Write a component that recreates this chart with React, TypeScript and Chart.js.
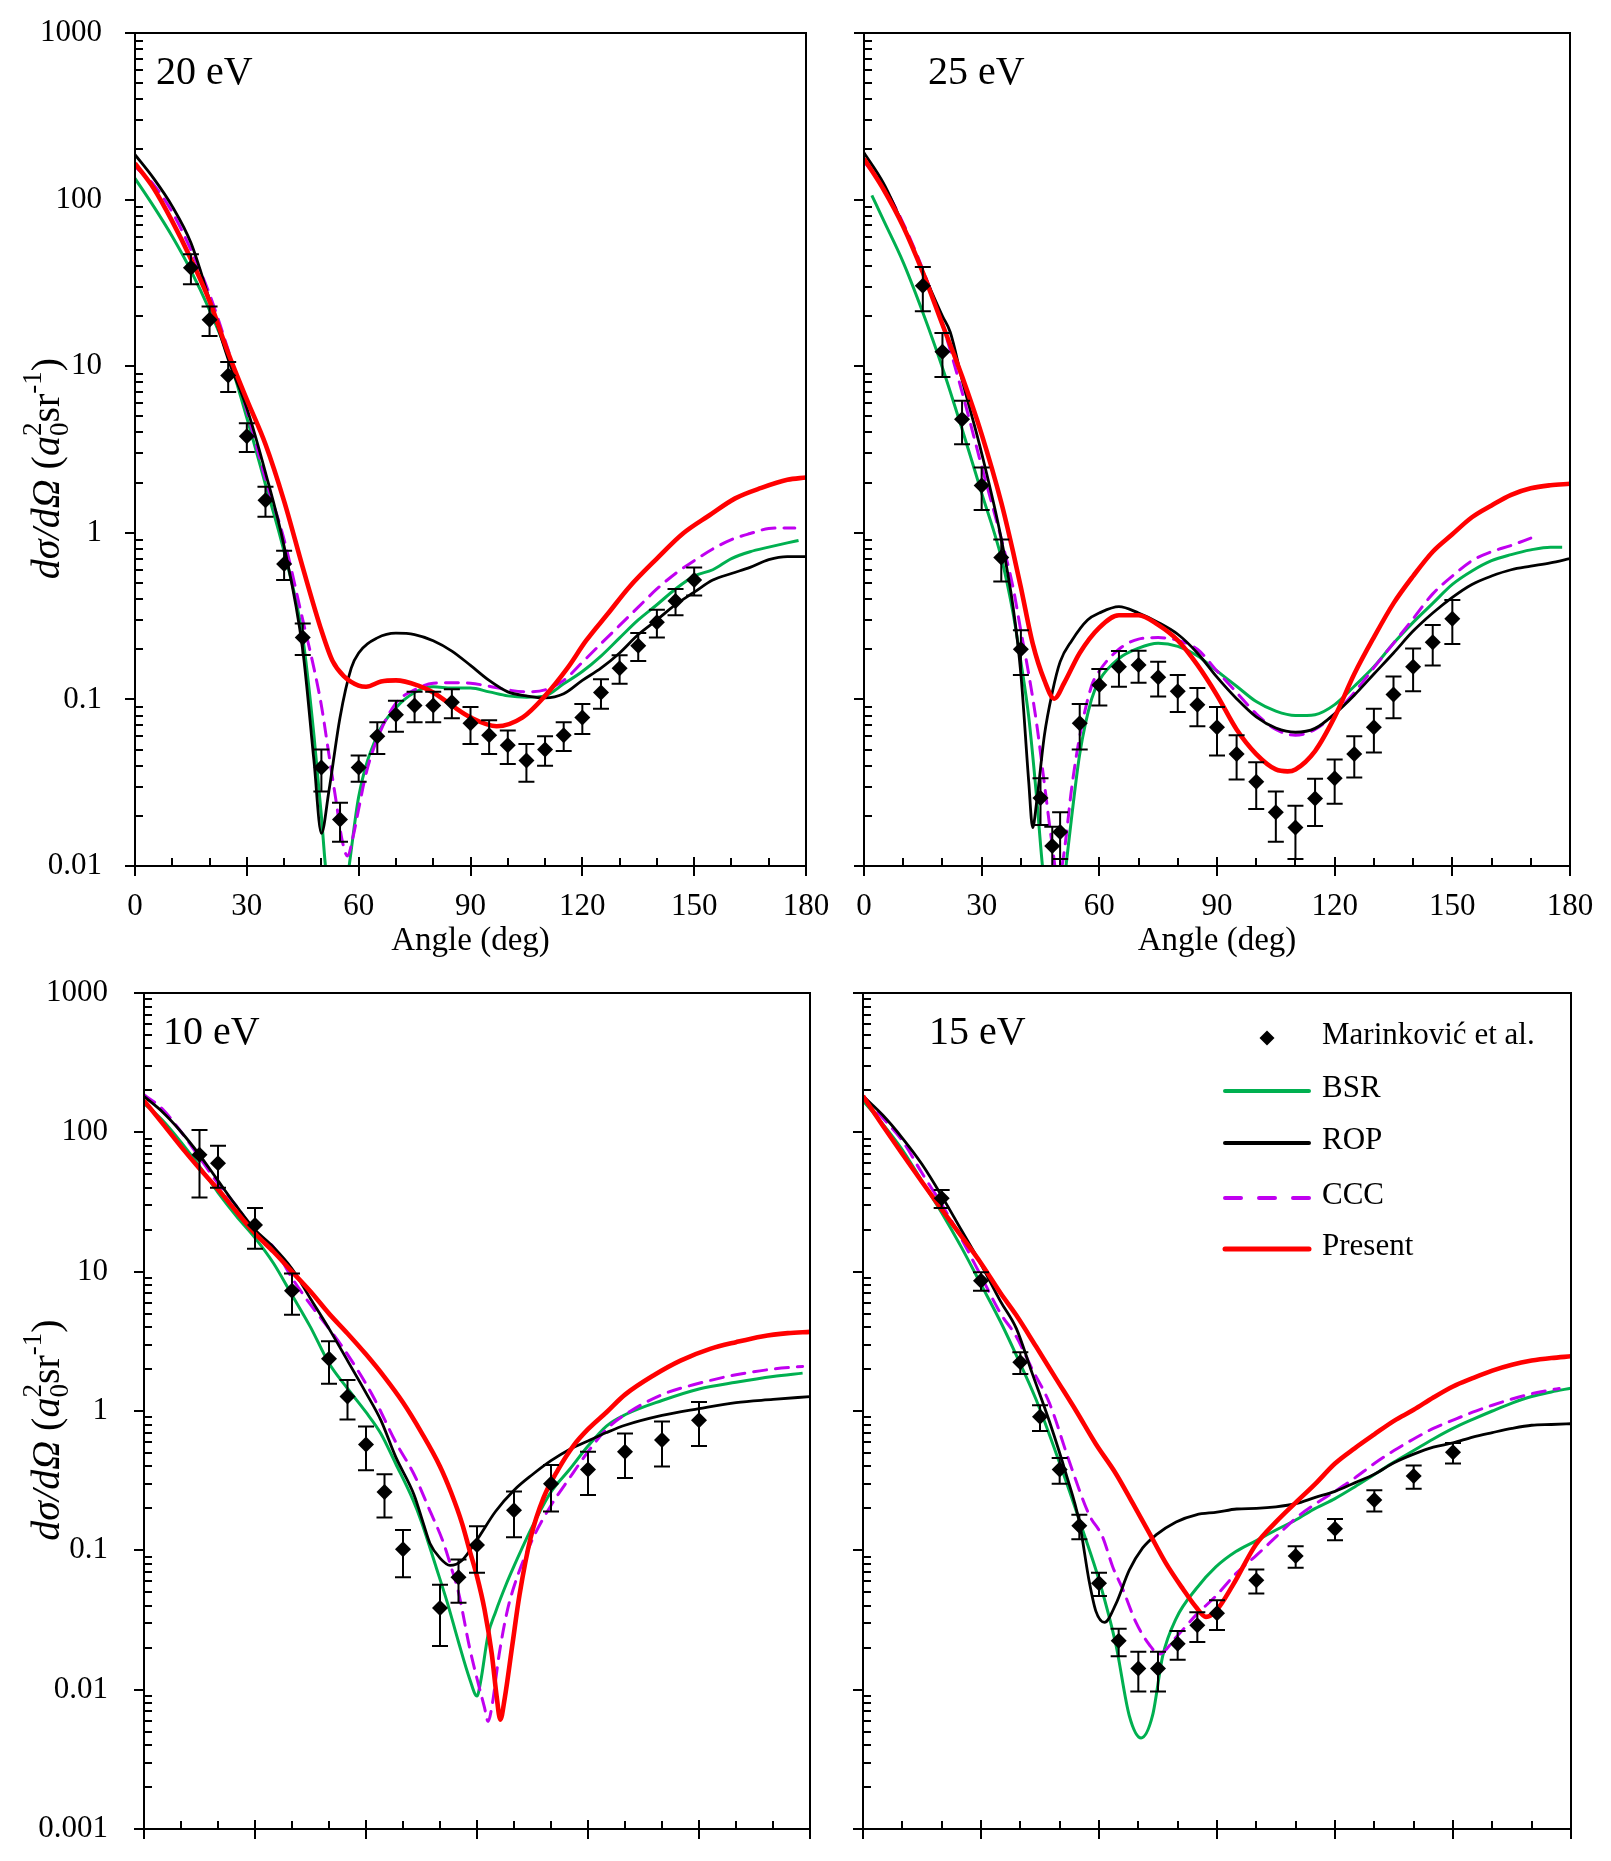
import { useEffect, useRef } from 'react';
import { Chart, registerables } from 'chart.js';

Chart.register(...registerables);

const FONT = '"Liberation Serif", "Times New Roman", serif';
const GREEN = '#00B050';
const PURPLE = '#C000F0';
const RED = '#FF0000';
const BLACK = '#000000';

const seriesNames = ['BSR', 'ROP', 'CCC', 'Present'];
const expName = 'Marinković et al.';
const xTickValues = [0, 30, 60, 90, 120, 150, 180];
const yTicksTop = [0.01, 0.1, 1, 10, 100, 1000];
const yTicksBottom = [0.001, 0.01, 0.1, 1, 10, 100, 1000];

// ---- 20 eV ----
const exp20Angle = [15, 20, 25, 30, 35, 40, 45, 50, 55, 60, 65, 70, 75, 80, 85, 90, 95, 100, 105, 110, 115, 120, 125, 130, 135, 140, 145, 150];
const exp20 = [39, 19, 8.8, 3.8, 1.57, 0.65, 0.235, 0.039, 0.019, 0.039, 0.06, 0.081, 0.092, 0.092, 0.096, 0.072, 0.061, 0.053, 0.043, 0.05, 0.061, 0.078, 0.11, 0.154, 0.21, 0.29, 0.39, 0.52];
const err20 = [8, 3.8, 1.8, 0.75, 0.32, 0.13, 0.05, 0.011, 0.005, 0.007, 0.013, 0.017, 0.019, 0.019, 0.019, 0.018, 0.014, 0.012, 0.011, 0.01, 0.012, 0.016, 0.022, 0.03, 0.04, 0.055, 0.07, 0.1];
const bsr20Angle = [0, 5, 10, 15, 20, 25, 30, 35, 40, 45, 48, 50, 51, 53, 55, 57.5, 60, 65, 70, 75, 80, 85, 90, 95, 100, 105, 110, 115, 120, 125, 130, 135, 140, 145, 150, 155, 160, 165, 170, 175, 178];
const bsr20 = [134, 91, 60, 37.5, 21.7, 11.5, 4.9, 1.95, 0.77, 0.235, 0.061, 0.02, 0.0105, 0.004, 0.004, 0.0102, 0.026, 0.061, 0.089, 0.11, 0.119, 0.117, 0.117, 0.111, 0.105, 0.103, 0.105, 0.124, 0.147, 0.182, 0.234, 0.3, 0.37, 0.46, 0.55, 0.6, 0.7, 0.77, 0.82, 0.87, 0.9];
const rop20Angle = [0, 5, 10, 15, 20, 25, 30, 35, 40, 45, 48, 50, 52, 55, 58, 60, 65, 70, 75, 80, 85, 90, 95, 100, 105, 110, 115, 120, 125, 130, 135, 140, 145, 150, 155, 160, 165, 170, 175, 180];
const rop20 = [186, 134, 91, 55, 25, 11, 5.6, 2.3, 0.83, 0.198, 0.043, 0.0157, 0.028, 0.078, 0.154, 0.19, 0.234, 0.25, 0.245, 0.225, 0.195, 0.16, 0.13, 0.111, 0.105, 0.102, 0.108, 0.13, 0.154, 0.19, 0.245, 0.3, 0.37, 0.44, 0.52, 0.57, 0.62, 0.69, 0.72, 0.72];
const ccc20Angle = [0, 5, 10, 15, 20, 25, 30, 35, 40, 45, 48, 50, 52, 54, 55.5, 57, 58.5, 60, 62, 65, 70, 75, 80, 85, 90, 95, 100, 105, 110, 115, 120, 125, 130, 135, 140, 145, 150, 155, 160, 165, 170, 175, 177];
const ccc20 = [158, 123, 84, 50, 27, 12.5, 5.4, 2.1, 0.91, 0.3, 0.154, 0.092, 0.047, 0.024, 0.0145, 0.0115, 0.015, 0.022, 0.036, 0.058, 0.095, 0.114, 0.125, 0.126, 0.125, 0.12, 0.114, 0.111, 0.114, 0.13, 0.167, 0.216, 0.278, 0.358, 0.46, 0.57, 0.68, 0.8, 0.91, 0.99, 1.06, 1.07, 1.07];
const present20Angle = [0, 5, 10, 15, 20, 25, 30, 35, 40, 45, 50, 53, 56, 60, 62, 66, 70, 76, 80, 85, 90, 97, 104, 110, 116, 121, 127, 132.5, 140, 147, 154, 161, 168, 175, 180];
const present20 = [165, 117, 74, 44, 24.6, 12, 6.3, 3.4, 1.55, 0.62, 0.26, 0.17, 0.138, 0.121, 0.119, 0.128, 0.13, 0.121, 0.11, 0.092, 0.078, 0.069, 0.078, 0.105, 0.154, 0.225, 0.33, 0.47, 0.7, 0.99, 1.27, 1.61, 1.86, 2.08, 2.15];

// ---- 25 eV ----
const exp25Angle = [15, 20, 25, 30, 35, 40, 45, 48, 50, 55, 60, 65, 70, 75, 80, 85, 90, 95, 100, 105, 110, 115, 120, 125, 130, 135, 140, 145, 150];
const exp25 = [30.4, 12.2, 4.8, 1.92, 0.71, 0.2, 0.0256, 0.0132, 0.016, 0.072, 0.122, 0.157, 0.161, 0.136, 0.112, 0.093, 0.068, 0.047, 0.032, 0.021, 0.017, 0.0254, 0.0336, 0.047, 0.068, 0.107, 0.157, 0.22, 0.305];
const err25 = [9, 3.6, 1.4, 0.55, 0.2, 0.06, 0.008, 0.004, 0.005, 0.022, 0.03, 0.038, 0.035, 0.032, 0.028, 0.024, 0.022, 0.014, 0.01, 0.007, 0.006, 0.008, 0.01, 0.013, 0.02, 0.03, 0.045, 0.06, 0.09];
const bsr25Angle = [2, 5, 10, 15, 20, 25, 30, 35, 38, 40, 42, 44, 45.5, 47, 50, 51.5, 53, 55, 58, 60, 65, 70, 75, 80, 85, 90, 95, 100, 105, 110, 115, 120, 125, 130, 135, 140, 145, 150, 155, 160, 165, 170, 175, 178];
const bsr25 = [106, 75, 42, 21, 9.8, 4.2, 1.73, 0.71, 0.33, 0.168, 0.0785, 0.026, 0.01, 0.005, 0.005, 0.01, 0.0202, 0.047, 0.1, 0.13, 0.176, 0.203, 0.217, 0.208, 0.183, 0.148, 0.12, 0.097, 0.085, 0.08, 0.081, 0.093, 0.12, 0.157, 0.217, 0.29, 0.377, 0.49, 0.59, 0.68, 0.74, 0.79, 0.82, 0.82];
const rop25Angle = [0, 5, 10, 15, 20, 22, 25, 30, 35, 38, 40, 42, 43, 44, 46, 48, 50, 53, 57, 60, 65, 70, 75, 80, 85, 90, 95, 100, 105, 110, 115, 120, 125, 130, 135, 140, 145, 150, 155, 160, 165, 170, 175, 180];
const rop25 = [191, 125, 70, 37, 20, 16, 8.3, 3.0, 0.92, 0.36, 0.142, 0.032, 0.017, 0.024, 0.061, 0.11, 0.168, 0.226, 0.3, 0.33, 0.36, 0.33, 0.29, 0.246, 0.19, 0.136, 0.101, 0.0785, 0.0673, 0.0635, 0.067, 0.082, 0.106, 0.142, 0.19, 0.257, 0.33, 0.41, 0.49, 0.55, 0.6, 0.63, 0.66, 0.7];
const ccc25Angle = [0, 5, 10, 15, 20, 25, 30, 35, 38, 40, 42, 44, 46, 48, 49.5, 51, 53, 55, 58, 60, 65, 70, 75, 80, 85, 90, 95, 100, 105, 110, 115, 120, 125, 130, 135, 140, 145, 150, 155, 160, 165, 170];
const ccc25 = [169, 120, 72, 38, 17.8, 7.0, 2.5, 0.92, 0.47, 0.257, 0.142, 0.072, 0.031, 0.0133, 0.008, 0.012, 0.03, 0.06, 0.12, 0.148, 0.2, 0.23, 0.235, 0.226, 0.2, 0.148, 0.11, 0.082, 0.066, 0.061, 0.066, 0.082, 0.11, 0.155, 0.217, 0.305, 0.43, 0.55, 0.68, 0.77, 0.84, 0.93];
const present25Angle = [0, 5, 10, 15, 20, 25, 30, 35, 38, 40, 43, 46, 48.5, 51, 55, 60, 65, 70, 75, 80, 85, 90, 95, 100, 105, 108, 110, 115, 120, 125, 130, 135, 140, 145, 150, 155, 160, 165, 170, 175, 180];
const present25 = [176, 115, 69, 36.6, 17.8, 8.7, 3.9, 1.52, 0.77, 0.47, 0.217, 0.13, 0.101, 0.125, 0.19, 0.27, 0.32, 0.32, 0.28, 0.226, 0.161, 0.106, 0.066, 0.047, 0.038, 0.037, 0.038, 0.049, 0.0785, 0.142, 0.236, 0.377, 0.55, 0.77, 0.98, 1.24, 1.46, 1.69, 1.85, 1.93, 1.97];

// ---- 10 eV ----
const exp10Angle = [15, 20, 30, 40, 50, 55, 60, 65, 70, 80, 85, 90, 100, 110, 120, 130, 140, 150];
const exp10 = [69, 60, 21.6, 7.3, 2.37, 1.27, 0.575, 0.262, 0.102, 0.0386, 0.064, 0.109, 0.194, 0.3, 0.38, 0.51, 0.62, 0.86];
const err10 = [35, 20, 7, 2.4, 0.8, 0.4, 0.2, 0.09, 0.038, 0.018, 0.022, 0.04, 0.07, 0.11, 0.13, 0.18, 0.22, 0.3];
const bsr10Angle = [0, 5, 10, 15, 20, 25, 30, 35, 40, 45, 50, 55, 60, 64, 68, 72.7, 75, 79, 82, 85, 88, 90, 91, 93, 95, 98, 100, 105, 110, 115, 120, 125, 130, 140, 150, 160, 170, 178];
const bsr10 = [161, 122, 85, 57, 37, 25, 17.5, 11.5, 6.8, 4.0, 2.2, 1.45, 0.98, 0.69, 0.42, 0.23, 0.16, 0.075, 0.042, 0.022, 0.012, 0.009, 0.0115, 0.0248, 0.036, 0.058, 0.077, 0.149, 0.262, 0.38, 0.56, 0.78, 0.94, 1.19, 1.44, 1.61, 1.77, 1.87];
const rop10Angle = [0, 5, 10, 15, 20, 25, 30, 35, 40, 45, 50, 55, 60, 64, 68, 73, 75.5, 77.3, 80, 82.7, 86, 90, 95, 100, 105, 110, 115, 120, 125, 130, 140, 150, 160, 170, 180];
const rop10 = [181, 140, 101, 69, 45, 29.5, 20, 15, 10.5, 6.4, 3.9, 2.3, 1.35, 0.86, 0.47, 0.25, 0.156, 0.112, 0.088, 0.078, 0.085, 0.119, 0.19, 0.27, 0.35, 0.44, 0.53, 0.61, 0.7, 0.79, 0.93, 1.04, 1.15, 1.21, 1.27];
const ccc10Angle = [0, 5, 10, 15, 20, 25, 30, 35, 40, 45, 50, 55, 62, 68, 73, 77, 81, 83, 85, 88, 90, 92, 93, 94, 96, 98, 100, 105, 110, 115, 120, 125, 130, 140, 150, 160, 170, 178];
const ccc10 = [186, 147, 101, 66, 43, 29.5, 19.3, 15, 9, 5.8, 3.9, 2.55, 1.26, 0.6, 0.35, 0.2, 0.112, 0.076, 0.05, 0.02, 0.012, 0.0075, 0.0059, 0.0075, 0.018, 0.035, 0.055, 0.12, 0.21, 0.33, 0.51, 0.74, 0.94, 1.31, 1.58, 1.82, 2.0, 2.09];
const present10Angle = [0, 5, 10, 15, 20, 25, 30, 35, 40, 45, 50, 55, 60, 65, 70, 75, 80, 83, 86, 88, 90, 92, 94, 95.3, 96.3, 97.5, 99.5, 101.5, 104.5, 108, 112, 116, 120, 125, 130, 138, 145, 153, 160, 167, 174, 180];
const present10 = [169, 116, 79, 55, 39, 26.9, 18.8, 13.9, 10, 7.2, 5.0, 3.6, 2.55, 1.75, 1.15, 0.7, 0.4, 0.26, 0.155, 0.1, 0.065, 0.038, 0.018, 0.009, 0.0061, 0.0087, 0.0205, 0.048, 0.123, 0.239, 0.383, 0.56, 0.74, 0.98, 1.31, 1.82, 2.3, 2.79, 3.12, 3.43, 3.62, 3.7];

// ---- 15 eV ----
const exp15Angle = [20, 30, 40, 45, 50, 55, 60, 65, 70, 75, 80, 85, 90, 100, 110, 120, 130, 140, 150];
const exp15 = [33.6, 8.6, 2.24, 0.91, 0.38, 0.15, 0.058, 0.0224, 0.0142, 0.0142, 0.0214, 0.029, 0.0353, 0.061, 0.091, 0.143, 0.23, 0.342, 0.505];
const err15 = [5, 1.3, 0.4, 0.19, 0.08, 0.03, 0.011, 0.005, 0.0045, 0.0045, 0.005, 0.007, 0.0085, 0.012, 0.016, 0.025, 0.04, 0.065, 0.085];
const bsr15Angle = [0, 5, 10, 15, 20, 25, 30, 35, 38.9, 44, 49.9, 55.8, 60.1, 64.3, 67.7, 70.7, 73.6, 76.2, 79.6, 84.7, 89.7, 94.8, 99.9, 105, 110, 115, 120, 125, 130, 135, 140, 145, 150, 155, 160, 165, 170, 175, 180];
const bsr15 = [169, 115, 75, 44.6, 26.5, 15, 8.1, 4.35, 2.54, 1.21, 0.43, 0.141, 0.06, 0.021, 0.0065, 0.0045, 0.0065, 0.0175, 0.0324, 0.053, 0.076, 0.098, 0.117, 0.14, 0.165, 0.2, 0.235, 0.285, 0.35, 0.43, 0.52, 0.63, 0.75, 0.87, 1.0, 1.14, 1.27, 1.37, 1.46];
const rop15Angle = [0, 5, 10, 15, 20, 25, 30, 35, 39, 43, 47.4, 51.6, 55, 57.5, 59.2, 61.4, 64.3, 67.7, 71.1, 74.5, 79.6, 84.7, 90, 95, 100, 105, 110, 115, 120, 125, 130, 135, 140, 145, 150, 155, 160, 165, 170, 175, 180];
const rop15 = [182, 133, 91, 59, 35, 19.9, 11.3, 6.1, 3.9, 1.87, 0.84, 0.355, 0.16, 0.06, 0.0366, 0.0304, 0.0413, 0.072, 0.104, 0.129, 0.16, 0.18, 0.188, 0.198, 0.2, 0.205, 0.216, 0.24, 0.265, 0.305, 0.352, 0.425, 0.49, 0.55, 0.59, 0.65, 0.7, 0.75, 0.79, 0.8, 0.81];
const ccc15Angle = [0, 5, 10, 15, 20, 25, 30, 35, 38.9, 43, 47.4, 52.5, 57.5, 60.9, 63.5, 66, 69.4, 72.8, 75.3, 79.6, 84.7, 89.7, 94.8, 100, 105, 110, 115, 120, 125, 130, 135, 140, 145, 150, 155, 160, 165, 170, 175, 177];
const ccc15 = [182, 127, 87, 51, 30.5, 17.3, 9.3, 5.0, 3.45, 2.0, 1.14, 0.43, 0.18, 0.125, 0.076, 0.053, 0.0304, 0.021, 0.018, 0.0238, 0.0344, 0.047, 0.068, 0.092, 0.125, 0.17, 0.215, 0.265, 0.33, 0.42, 0.52, 0.63, 0.75, 0.86, 0.98, 1.1, 1.22, 1.33, 1.42, 1.45];
const present15Angle = [0, 5, 10, 15, 20, 25, 30, 35, 38.9, 44, 49.1, 54.2, 59.2, 64.3, 68.6, 72.8, 77, 81.3, 84.7, 87.2, 89.7, 94, 99.9, 105, 110, 115, 120, 125, 130, 135, 140, 145, 150, 155, 160, 165, 170, 175, 180];
const present15 = [182, 112, 70, 44, 28, 18, 11.5, 7.0, 4.9, 2.9, 1.7, 1.0, 0.58, 0.355, 0.217, 0.133, 0.081, 0.053, 0.039, 0.0333, 0.0366, 0.056, 0.11, 0.16, 0.22, 0.3, 0.42, 0.54, 0.68, 0.85, 1.02, 1.25, 1.5, 1.72, 1.95, 2.15, 2.3, 2.4, 2.47];

const pts = (xs: number[], ys: number[]) => xs.map((x, i) => ({ x, y: ys[i] }));

const curveStyles = [
  { color: GREEN, width: 3, dash: [] as number[] },
  { color: BLACK, width: 2.8, dash: [] as number[] },
  { color: PURPLE, width: 3, dash: [13, 9] },
  { color: RED, width: 4.6, dash: [] as number[] },
];

// draws the box, inward minor ticks and outward major ticks
const axesBoxPlugin = {
  id: 'axesBox',
  afterDatasetsDraw(chart: any) {
    const { ctx, chartArea: a, scales } = chart;
    const xs = scales.x;
    const ys = scales.y;
    ctx.save();
    ctx.strokeStyle = '#000';
    ctx.lineWidth = 2;
    ctx.strokeRect(a.left, a.top, a.right - a.left, a.bottom - a.top);
    ctx.beginPath();
    for (let v = 0; v <= 180; v += 10) {
      const px = Math.round(xs.getPixelForValue(v));
      if (v % 30 === 0) {
        ctx.moveTo(px, a.bottom - 9);
        ctx.lineTo(px, a.bottom + 10);
      } else {
        ctx.moveTo(px, a.bottom);
        ctx.lineTo(px, a.bottom - 8);
      }
    }
    for (let d = ys.min; d < 1001; d *= 10) {
      const py = Math.round(ys.getPixelForValue(d));
      ctx.moveTo(a.left - 10, py);
      ctx.lineTo(a.left, py);
      if (d >= 999) break;
      for (let m = 2; m < 10; m++) {
        const my = Math.round(ys.getPixelForValue(d * m));
        ctx.moveTo(a.left, my);
        ctx.lineTo(a.left + 8, my);
      }
    }
    ctx.stroke();
    ctx.restore();
  },
};

const errorBarPlugin = {
  id: 'errorBars',
  afterDatasetsDraw(chart: any, _args: any, opts: any) {
    const { ctx, chartArea: a, scales } = chart;
    const { angles, values, errors } = opts;
    if (!angles) return;
    ctx.save();
    ctx.beginPath();
    ctx.rect(a.left, a.top, a.right - a.left, a.bottom - a.top);
    ctx.clip();
    ctx.strokeStyle = '#000';
    ctx.lineWidth = 2;
    ctx.beginPath();
    angles.forEach((ang: number, i: number) => {
      const px = scales.x.getPixelForValue(ang);
      const hi = scales.y.getPixelForValue(values[i] + errors[i]);
      const lowVal = values[i] - errors[i];
      const lo = lowVal > 0 ? scales.y.getPixelForValue(lowVal) : a.bottom + 5;
      ctx.moveTo(px, hi);
      ctx.lineTo(px, lo);
      ctx.moveTo(px - 8, hi);
      ctx.lineTo(px + 8, hi);
      ctx.moveTo(px - 8, lo);
      ctx.lineTo(px + 8, lo);
    });
    ctx.stroke();
    ctx.restore();
  },
};

const panelTextPlugin = {
  id: 'panelText',
  afterDraw(chart: any, _args: any, opts: any) {
    const { ctx, chartArea: a } = chart;
    ctx.save();
    ctx.fillStyle = '#000';
    ctx.textBaseline = 'alphabetic';
    ctx.textAlign = 'left';
    ctx.font = `40px ${FONT}`;
    ctx.fillText(opts.label, a.left + opts.labelDx, a.top + 51);

    if (opts.yTitle) {
      const size = 40;
      const small = 27;
      const parts = [
        { t: 'dσ/dΩ', f: `italic ${size}px ${FONT}`, dy: 0, adv: true },
        { t: ' (', f: `${size}px ${FONT}`, dy: 0, adv: true },
        { t: 'a', f: `italic ${size}px ${FONT}`, dy: 0, adv: true },
        { t: '0', f: `${small}px ${FONT}`, dy: 9, adv: false },
        { t: '2', f: `${small}px ${FONT}`, dy: -18, adv: true },
        { t: 'sr', f: `${size}px ${FONT}`, dy: 0, adv: true },
        { t: '-1', f: `${small}px ${FONT}`, dy: -18, adv: true },
        { t: ')', f: `${size}px ${FONT}`, dy: 0, adv: true },
      ];
      let total = 0;
      parts.forEach((p) => {
        ctx.font = p.f;
        if (p.adv) total += ctx.measureText(p.t).width;
      });
      ctx.translate(opts.titleX, (a.top + a.bottom) / 2 + 19);
      ctx.rotate(-Math.PI / 2);
      let x = -total / 2;
      parts.forEach((p) => {
        ctx.font = p.f;
        ctx.fillText(p.t, x, p.dy);
        if (p.adv) x += ctx.measureText(p.t).width;
      });
    }
    ctx.restore();
  },
};

const legendPlugin = {
  id: 'insideLegend',
  afterDraw(chart: any, _args: any, opts: any) {
    if (!opts.show) return;
    const { ctx, chartArea: a } = chart;
    ctx.save();
    ctx.fillStyle = '#000';
    ctx.font = `31px ${FONT}`;
    ctx.textBaseline = 'middle';
    ctx.textAlign = 'left';
    const dx = a.left + 404;
    const dy = a.top + 45;
    ctx.beginPath();
    ctx.moveTo(dx - 7.5, dy);
    ctx.lineTo(dx, dy - 7.5);
    ctx.lineTo(dx + 7.5, dy);
    ctx.lineTo(dx, dy + 7.5);
    ctx.closePath();
    ctx.fill();
    ctx.fillText(expName, a.left + 459, a.top + 43);
    const rows = [98, 150, 205, 256];
    seriesNames.forEach((name, i) => {
      const st = curveStyles[i];
      const y = a.top + rows[i];
      ctx.beginPath();
      ctx.strokeStyle = st.color;
      ctx.lineWidth = i === 3 ? 5 : 4;
      ctx.lineCap = 'round';
      ctx.setLineDash(i === 2 ? [16, 18] : []);
      ctx.moveTo(a.left + 362, y);
      ctx.lineTo(a.left + 446, y);
      ctx.stroke();
      ctx.setLineDash([]);
      ctx.fillText(name, a.left + 459, y - 2);
    });
    ctx.restore();
  },
};

type PanelDef = {
  label: string;
  left: number;
  top: number;
  width: number;
  height: number;
  yAxisW: number;
  xAxisH: number;
  yPad: number;
  yTicks: number[];
  yLabels: boolean;
  xLabels: boolean;
  labelDx: number;
  yTitle: boolean;
  legend: boolean;
  expA: number[];
  exp: number[];
  err: number[];
  curves: [number[], number[]][];
};

// layout padding top/right is fixed at 60/50 px, so the plot box lands where the canvas offsets say
const PAD_TOP = 60;
const PAD_RIGHT = 50;

const panels: PanelDef[] = [
  {
    label: '20 eV', left: 0, top: -27, width: 856, height: 988,
    yAxisW: 135, xAxisH: 95, yPad: 33, yTicks: yTicksTop, yLabels: true, xLabels: true,
    labelDx: 21, yTitle: true, legend: false,
    expA: exp20Angle, exp: exp20, err: err20,
    curves: [[bsr20Angle, bsr20], [rop20Angle, rop20], [ccc20Angle, ccc20], [present20Angle, present20]],
  },
  {
    label: '25 eV', left: 824, top: -27, width: 796, height: 988,
    yAxisW: 40, xAxisH: 95, yPad: 33, yTicks: yTicksTop, yLabels: false, xLabels: true,
    labelDx: 64, yTitle: false, legend: false,
    expA: exp25Angle, exp: exp25, err: err25,
    curves: [[bsr25Angle, bsr25], [rop25Angle, rop25], [ccc25Angle, ccc25], [present25Angle, present25]],
  },
  {
    label: '10 eV', left: 0, top: 933, width: 860, height: 956,
    yAxisW: 144, xAxisH: 60, yPad: 36, yTicks: yTicksBottom, yLabels: true, xLabels: false,
    labelDx: 19, yTitle: true, legend: false,
    expA: exp10Angle, exp: exp10, err: err10,
    curves: [[bsr10Angle, bsr10], [rop10Angle, rop10], [ccc10Angle, ccc10], [present10Angle, present10]],
  },
  {
    label: '15 eV', left: 823, top: 933, width: 798, height: 956,
    yAxisW: 40, xAxisH: 60, yPad: 36, yTicks: yTicksBottom, yLabels: false, xLabels: false,
    labelDx: 66, yTitle: false, legend: true,
    expA: exp15Angle, exp: exp15, err: err15,
    curves: [[bsr15Angle, bsr15], [rop15Angle, rop15], [ccc15Angle, ccc15], [present15Angle, present15]],
  },
];

function Panel({ p }: { p: PanelDef }) {
  const canvasRef = useRef<HTMLCanvasElement>(null);
  const chartRef = useRef<Chart | null>(null);

  useEffect(() => {
    if (!canvasRef.current) return;
    if (chartRef.current) chartRef.current.destroy();

    const curveSets = p.curves.map(([xs, ys], i) => ({
      label: seriesNames[i],
      data: pts(xs, ys),
      showLine: true,
      borderColor: curveStyles[i].color,
      borderWidth: curveStyles[i].width,
      borderDash: curveStyles[i].dash,
      borderCapStyle: i === 2 ? 'round' : 'butt',
      pointRadius: 0,
      fill: false,
      cubicInterpolationMode: 'monotone',
      clip: 0,
    }));
    // dataset 0 is drawn on top
    const datasets: any[] = [
      {
        label: expName,
        data: pts(p.expA, p.exp),
        showLine: false,
        pointStyle: 'rectRot',
        pointRadius: 8,
        backgroundColor: '#000',
        borderWidth: 0,
        clip: 0,
      },
      curveSets[3],
      curveSets[1],
      curveSets[2],
      curveSets[0],
    ];

    const tickFont = { family: FONT, size: 31 };

    chartRef.current = new Chart(canvasRef.current, {
      type: 'scatter',
      data: { datasets },
      options: {
        animation: false,
        responsive: true,
        maintainAspectRatio: false,
        events: [],
        layout: { padding: { top: PAD_TOP, right: PAD_RIGHT, left: 0, bottom: 0 } },
        plugins: {
          legend: { display: false },
          tooltip: { enabled: false },
          errorBars: { angles: p.expA, values: p.exp, errors: p.err },
          panelText: { label: p.label, labelDx: p.labelDx, yTitle: p.yTitle, titleX: 59 },
          insideLegend: { show: p.legend },
        } as any,
        scales: {
          x: {
            type: 'linear',
            min: 0,
            max: 180,
            grid: { display: false, drawTicks: false },
            border: { display: false },
            ticks: {
              display: p.xLabels,
              color: '#000',
              font: tickFont,
              padding: 22,
              maxRotation: 0,
              autoSkip: false,
            },
            afterBuildTicks: (s: any) => {
              s.ticks = xTickValues.map((v) => ({ value: v }));
            },
            afterFit: (s: any) => {
              s.height = p.xAxisH;
            },
            title: {
              display: p.xLabels,
              text: 'Angle (deg)',
              color: '#000',
              font: { family: FONT, size: 33 },
              padding: 0,
            },
          },
          y: {
            type: 'logarithmic',
            min: p.yTicks[0],
            max: 1000,
            grid: { display: false, drawTicks: false },
            border: { display: false },
            ticks: {
              display: p.yLabels,
              color: '#000',
              font: tickFont,
              padding: p.yPad,
              autoSkip: false,
              callback: (v: any) => String(v),
            },
            afterBuildTicks: (s: any) => {
              s.ticks = p.yTicks.map((v) => ({ value: v }));
            },
            afterFit: (s: any) => {
              s.width = p.yAxisW;
            },
          },
        },
      },
      plugins: [axesBoxPlugin, errorBarPlugin, panelTextPlugin, legendPlugin],
    } as any);

    return () => {
      chartRef.current?.destroy();
      chartRef.current = null;
    };
  }, [p]);

  return (
    <div style={{ position: 'absolute', left: p.left, top: p.top, width: p.width, height: p.height }}>
      <canvas ref={canvasRef} />
    </div>
  );
}

export default function App() {
  return (
    <div style={{ position: 'absolute', left: 0, top: 0, width: 1611, height: 1861, background: '#fff', overflow: 'hidden' }}>
      {panels.map((p) => (
        <Panel key={p.label} p={p} />
      ))}
    </div>
  );
}
